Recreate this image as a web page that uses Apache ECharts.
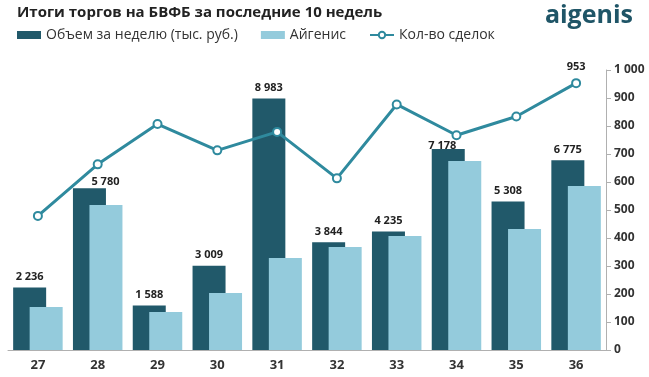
<!DOCTYPE html>
<html>
<head>
<meta charset="utf-8">
<script src="https://cdn.jsdelivr.net/npm/echarts@6/dist/echarts.min.js"></script>
<style>
	html, body { margin: 0; padding: 0; background: #fff; }
	#chart { width: 649px; height: 377px; }
</style>
</head>
<body>
<div id="chart"></div>
<script>
// недели
var weeks = ["27", "28", "29", "30", "31", "32", "33", "34", "35", "36"];
// объём за неделю, тыс. руб.
var volume = [2236, 5780, 1588, 3009, 8983, 3844, 4235, 7178, 5308, 6775];
// Айгенис
var aigenis = [1540, 5180, 1360, 2040, 3290, 3680, 4070, 6750, 4320, 5860];
// количество сделок
var deals = [479, 663, 807, 713, 779, 613, 877, 767, 834, 953];

var FONT = "Open Sans, Noto Sans, sans-serif";

// формат с пробелом между разрядами
function fmt(v) {
	return String(v).replace(/\B(?=(\d{3})+(?!\d))/g, " ");
}

// сдвиг подписей, которые мешают линии
var labelShift = { 1: [16, 4], 7: [-6, 7] };

var chart = echarts.init(document.getElementById("chart"));

var option = {
	animation: false,
	textStyle: { fontFamily: FONT },
	title: {
		text: "Итоги торгов на БВФБ за последние 10 недель",
		left: 12,
		top: 0,
		textStyle: {
			fontFamily: FONT,
			fontSize: 15,
			fontWeight: "bold",
			color: "#222"
		}
	},
	graphic: [{
		type: "text",
		right: 16,
		top: 3,
		style: {
			text: "aigenis",
			fontFamily: FONT,
			fontSize: 25,
			fontWeight: "bold",
			fill: "#1f5567"
		}
	}],
	legend: {
		left: 12,
		top: 23,
		itemWidth: 24,
		itemHeight: 8,
		itemGap: 23,
		textStyle: { fontFamily: FONT, fontSize: 14, color: "#333" },
		data: [
			{ name: "Объем за неделю (тыс. руб.)", icon: "rect" },
			{ name: "Айгенис", icon: "rect" },
			{ name: "Кол-во сделок" }
		]
	},
	grid: {
		left: 8,
		right: 43,
		top: 70,
		bottom: 27
	},
	xAxis: {
		type: "category",
		data: weeks,
		axisLine: { lineStyle: { color: "#b0b0b0" } },
		axisTick: { length: 5, lineStyle: { color: "#b0b0b0" } },
		axisLabel: {
			fontFamily: FONT,
			fontSize: 13,
			fontWeight: "bold",
			color: "#333",
			margin: 9
		}
	},
	yAxis: [{
		type: "value",
		show: false,
		min: 0,
		max: 10000
	}, {
		type: "value",
		position: "right",
		min: 0,
		max: 1000,
		interval: 100,
		splitLine: { show: false },
		axisLine: { show: true, lineStyle: { color: "#b0b0b0" } },
		axisTick: { show: true, length: 5, lineStyle: { color: "#b0b0b0" } },
		axisLabel: {
			fontFamily: FONT,
			fontSize: 12,
			fontWeight: "bold",
			color: "#333",
			margin: 8,
			formatter: v => fmt(v)
		}
	}],
	series: [{
		name: "Объем за неделю (тыс. руб.)",
		type: "bar",
		yAxisIndex: 0,
		data: volume.map((v, i) => labelShift[i]
			? { value: v, label: { offset: labelShift[i] } } : v),
		barWidth: 33,
		barGap: "-50%",
		itemStyle: { color: "#21596a" },
		label: {
			show: true,
			position: "top",
			distance: 5,
			fontFamily: FONT,
			fontSize: 11,
			fontWeight: "bold",
			color: "#222",
			formatter: p => fmt(p.value)
		}
	}, {
		name: "Айгенис",
		type: "bar",
		yAxisIndex: 0,
		data: aigenis,
		barWidth: 33,
		barGap: "-50%",
		itemStyle: { color: "#94cbdc" }
	}, {
		name: "Кол-во сделок",
		type: "line",
		yAxisIndex: 1,
		data: deals,
		z: 5,
		symbol: "circle",
		symbolSize: 8,
		lineStyle: { color: "#2f8a9e", width: 3 },
		itemStyle: { color: "#fff", borderColor: "#2f8a9e", borderWidth: 2 },
		label: {
			show: true,
			position: "top",
			distance: 6,
			fontFamily: FONT,
			fontSize: 11,
			fontWeight: "bold",
			color: "#222",
			formatter: p => p.dataIndex === deals.length - 1 ? fmt(p.value) : ""
		}
	}]
};

chart.setOption(option);
window.addEventListener("resize", chart.resize);
</script>
</body>
</html>
